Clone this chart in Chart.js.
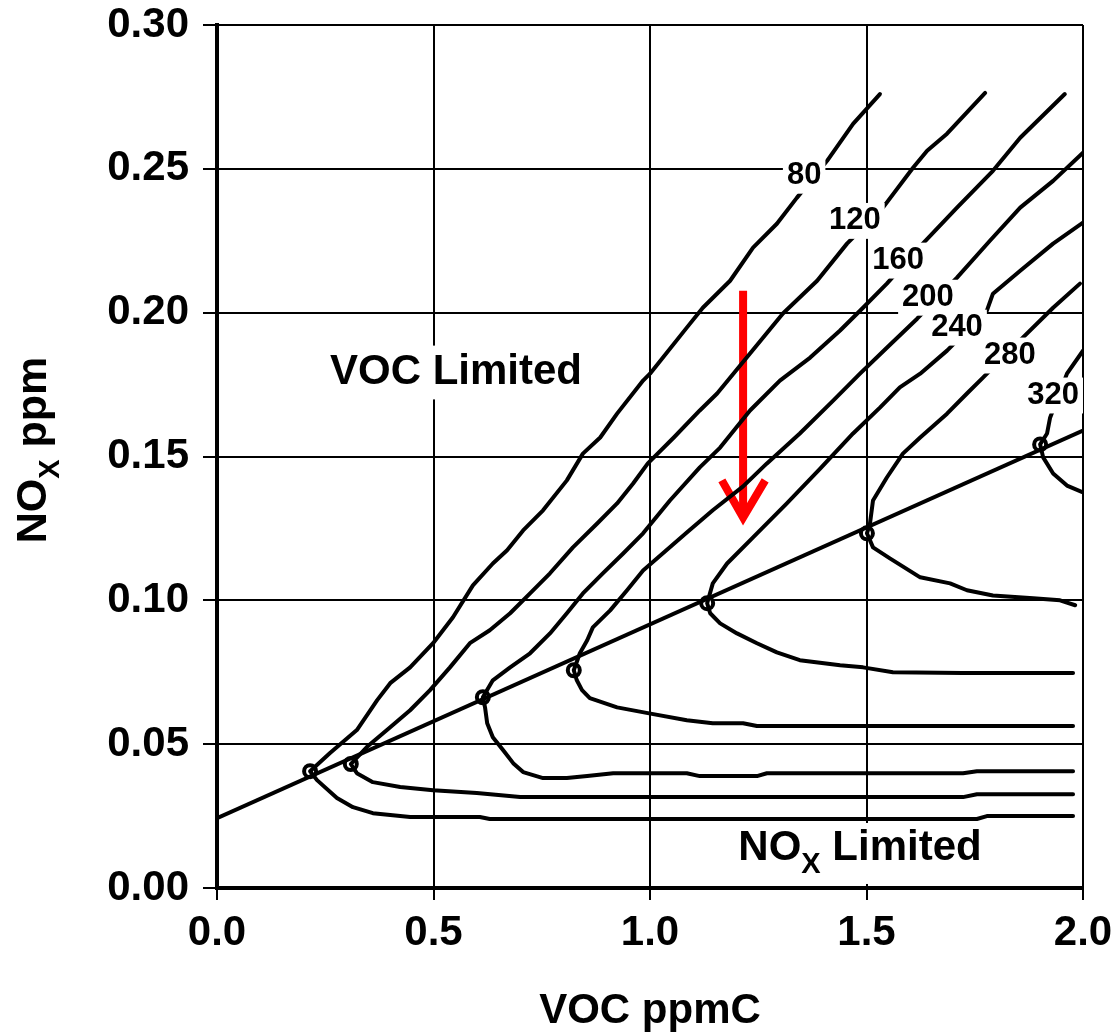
<!DOCTYPE html>
<html>
<head>
<meta charset="utf-8">
<title>Ozone isopleths</title>
<script src="https://cdn.jsdelivr.net/npm/chart.js@4.4.1/dist/chart.umd.min.js"></script>
<style>
    body { margin: 0; background: #fff; }
    #chart { display: block; }
</style>
</head>
<body>
<canvas id="chart" width="1112" height="1032"></canvas>
<script>
'use strict';
// values: [VOC ppmC, NOx ppm]
let levels = [80, 120, 160, 200, 240, 280, 320];
let xTicks = [0, 0.5, 1.0, 1.5, 2.0];
let yTicks = [0, 0.05, 0.10, 0.15, 0.20, 0.25, 0.30];

let ridge = [[0, 0.0243], [2.0, 0.159]];
let peaks = [[0.215, 0.0406], [0.309, 0.0431], [0.614, 0.0663], [0.824, 0.0757], [1.132, 0.0990], [1.501, 0.1233], [1.901, 0.1542]];

// VOC limited branches (above ridge)
let c80Up = [[0.215, 0.0406], [0.261, 0.0469], [0.323, 0.0549], [0.370, 0.0653], [0.400, 0.0712], [0.446, 0.0767], [0.499, 0.0851], [0.545, 0.0941], [0.591, 0.1052], [0.637, 0.1128], [0.670, 0.1174], [0.707, 0.1243], [0.753, 0.1313], [0.808, 0.1417], [0.845, 0.1510], [0.885, 0.1566], [0.924, 0.1649], [0.984, 0.1764], [1.000, 0.1788], [1.085, 0.1948], [1.122, 0.2017], [1.185, 0.2111], [1.238, 0.2226], [1.293, 0.2309], [1.339, 0.2399], [1.409, 0.2528], [1.469, 0.2656], [1.531, 0.2760]];
let c120Up = [[0.309, 0.0431], [0.346, 0.0490], [0.400, 0.0559], [0.446, 0.0618], [0.492, 0.0688], [0.538, 0.0767], [0.584, 0.0851], [0.630, 0.0896], [0.677, 0.0955], [0.723, 0.1024], [0.769, 0.1094], [0.822, 0.1184], [0.878, 0.1267], [0.924, 0.1337], [0.961, 0.1406], [0.995, 0.1476], [1.055, 0.1566], [1.115, 0.1660], [1.155, 0.1719], [1.231, 0.1858], [1.307, 0.1997], [1.386, 0.2111], [1.455, 0.2240], [1.538, 0.2365], [1.607, 0.2503], [1.640, 0.2563], [1.686, 0.2622], [1.774, 0.2764]];
let c160Up = [[0.614, 0.0663], [0.637, 0.0722], [0.677, 0.0767], [0.723, 0.0816], [0.769, 0.0885], [0.808, 0.0955], [0.845, 0.1024], [0.891, 0.1094], [0.938, 0.1163], [0.984, 0.1233], [1.046, 0.1347], [1.115, 0.1462], [1.162, 0.1531], [1.231, 0.1660], [1.300, 0.1764], [1.370, 0.1844], [1.439, 0.1938], [1.492, 0.2017], [1.547, 0.2101], [1.630, 0.2240], [1.709, 0.2365], [1.792, 0.2493], [1.855, 0.2608], [1.958, 0.2760]];
let c200Up = [[0.824, 0.0757], [0.838, 0.0816], [0.855, 0.0861], [0.868, 0.0906], [0.908, 0.0965], [0.947, 0.1035], [0.984, 0.1104], [1.085, 0.1236], [1.145, 0.1313], [1.215, 0.1396], [1.270, 0.1476], [1.346, 0.1580], [1.423, 0.1694], [1.485, 0.1788], [1.547, 0.1878], [1.617, 0.1979], [1.709, 0.2122], [1.785, 0.2250], [1.855, 0.2365], [1.931, 0.2458], [2.000, 0.2556]];
let c240Up = [[1.132, 0.0990], [1.145, 0.1059], [1.178, 0.1128], [1.238, 0.1219], [1.316, 0.1337], [1.393, 0.1458], [1.469, 0.1580], [1.531, 0.1670], [1.577, 0.1740], [1.624, 0.1788], [1.686, 0.1868], [1.778, 0.2007], [1.792, 0.2066], [1.855, 0.2146], [1.931, 0.2240], [2.000, 0.2313]];
let c280Up = [[1.501, 0.1233], [1.508, 0.1267], [1.515, 0.1347], [1.547, 0.1427], [1.584, 0.1510], [1.624, 0.1566], [1.686, 0.1649], [1.732, 0.1719], [1.769, 0.1774], [1.861, 0.1913], [1.931, 0.2017], [1.993, 0.2101]];
let c320Up = [[1.901, 0.1542], [1.917, 0.1580], [1.924, 0.1635], [1.963, 0.1788], [2.000, 0.1868]];

// NOx limited branches (below ridge)
let c80Low = [[0.215, 0.0406], [0.231, 0.0375], [0.277, 0.0313], [0.314, 0.0281], [0.360, 0.0260], [0.446, 0.0247], [0.607, 0.0247], [0.630, 0.0240], [1.755, 0.0240], [1.778, 0.0250], [1.977, 0.0250]];
let c120Low = [[0.309, 0.0431], [0.323, 0.0399], [0.360, 0.0368], [0.423, 0.0351], [0.499, 0.0340], [0.600, 0.0330], [0.700, 0.0316], [1.723, 0.0316], [1.755, 0.0326], [1.977, 0.0326]];
let c160Low = [[0.614, 0.0663], [0.619, 0.0628], [0.624, 0.0573], [0.637, 0.0524], [0.661, 0.0479], [0.684, 0.0434], [0.707, 0.0403], [0.753, 0.0382], [0.808, 0.0382], [0.855, 0.0389], [0.915, 0.0399], [1.085, 0.0399], [1.115, 0.0389], [1.247, 0.0389], [1.270, 0.0399], [1.723, 0.0399], [1.755, 0.0406], [1.977, 0.0406]];
let c200Low = [[0.824, 0.0757], [0.831, 0.0722], [0.843, 0.0688], [0.861, 0.0660], [0.924, 0.0628], [0.995, 0.0608], [1.085, 0.0583], [1.145, 0.0573], [1.215, 0.0573], [1.247, 0.0563], [1.977, 0.0563]];
let c240Low = [[1.132, 0.0990], [1.139, 0.0955], [1.162, 0.0920], [1.201, 0.0885], [1.247, 0.0851], [1.293, 0.0819], [1.346, 0.0792], [1.439, 0.0774], [1.492, 0.0767], [1.561, 0.0750], [1.723, 0.0747], [1.977, 0.0747]];
let c280Low = [[1.501, 0.1233], [1.515, 0.1184], [1.554, 0.1146], [1.624, 0.1080], [1.693, 0.1059], [1.732, 0.1035], [1.792, 0.1017], [1.885, 0.1007], [1.947, 0.1000], [1.982, 0.0983]];
let c320Low = [[1.901, 0.1542], [1.908, 0.1497], [1.931, 0.1441], [1.963, 0.1399], [2.000, 0.1375]];

// where the contour numbers sit
let labelPos = [[1.356, 0.2476], [1.473, 0.2319], [1.573, 0.2181], [1.642, 0.2052], [1.709, 0.1948], [1.831, 0.1851], [1.931, 0.1712]];

// the red arrow
let arrowShaft = [[1.215, 0.2076], [1.215, 0.1300]];
let arrowHead = [[1.166, 0.1417], [1.215, 0.1288], [1.266, 0.1417]];

let uppers = [c80Up, c120Up, c160Up, c200Up, c240Up, c280Up, c320Up];
let lowers = [c80Low, c120Low, c160Low, c200Low, c240Low, c280Low, c320Low];

function toPoints(arr) {
    return arr.map(function (p) { return { x: p[0], y: p[1] }; });
}

let FONT = '"Liberation Sans", Arial, sans-serif';

let datasets = [];
datasets.push({
    label: 'ridge',
    data: toPoints(ridge),
    borderColor: '#000',
    borderWidth: 4,
    pointRadius: 0,
    showLine: true
});
for (let i = 0; i < levels.length; i++) {
    // walk the lower branch back to the ridge, then up the upper branch
    let line = lowers[i].slice().reverse().concat(uppers[i].slice(1));
    datasets.push({
        label: String(levels[i]),
        data: toPoints(line),
        borderColor: '#000',
        borderWidth: 4,
        pointRadius: 0,
        showLine: true,
        borderJoinStyle: 'round',
        borderCapStyle: 'round'
    });
}
datasets.push({
    label: 'peaks',
    data: toPoints(peaks),
    showLine: false,
    pointRadius: 6,
    pointBorderWidth: 4,
    pointBackgroundColor: '#fff',
    pointBorderColor: '#000'
});
datasets.push({
    label: 'arrow',
    data: toPoints(arrowShaft),
    borderColor: '#ff0000',
    borderWidth: 8,
    pointRadius: 0,
    showLine: true
});
datasets.push({
    label: 'arrowhead',
    data: toPoints(arrowHead),
    borderColor: '#ff0000',
    borderWidth: 8,
    pointRadius: 0,
    showLine: true,
    borderJoinStyle: 'miter',
    borderCapStyle: 'butt'
});

// white box + bold text
function boxText(ctx, text, cx, cy, size, pad) {
    ctx.font = 'bold ' + size + 'px ' + FONT;
    let w = ctx.measureText(text).width;
    ctx.fillStyle = '#fff';
    ctx.fillRect(cx - w / 2 - pad, cy - size * 0.45 - pad, w + pad * 2, size * 0.9 + pad * 2);
    ctx.fillStyle = '#000';
    ctx.textAlign = 'center';
    ctx.textBaseline = 'middle';
    ctx.fillText(text, cx, cy);
}

// text made of parts (for the subscripts), drawn from left x at baseline y
function subText(ctx, parts, x, y) {
    ctx.textAlign = 'left';
    ctx.textBaseline = 'alphabetic';
    ctx.fillStyle = '#000';
    let cur = x;
    parts.forEach(function (p) {
        ctx.font = 'bold ' + p.size + 'px ' + FONT;
        ctx.fillText(p.t, cur, y + (p.dy || 0));
        cur += ctx.measureText(p.t).width;
    });
}
function subWidth(ctx, parts) {
    let w = 0;
    parts.forEach(function (p) {
        ctx.font = 'bold ' + p.size + 'px ' + FONT;
        w += ctx.measureText(p.t).width;
    });
    return w;
}

let labelsPlugin = {
    id: 'labelsPlugin',
    afterDatasetsDraw: function (chart) {
        let ctx = chart.ctx;
        let xs = chart.scales.x;
        let ys = chart.scales.y;
        ctx.save();
        for (let i = 0; i < levels.length; i++) {
            boxText(ctx, String(levels[i]), xs.getPixelForValue(labelPos[i][0]), ys.getPixelForValue(labelPos[i][1]), 31, 4);
        }
        // region names
        boxText(ctx, 'VOC Limited', xs.getPixelForValue(0.552), ys.getPixelForValue(0.1792), 42, 8);

        let noxParts = [{ t: 'NO', size: 42 }, { t: 'X', size: 29, dy: 13 }, { t: ' Limited', size: 42 }];
        let nw = subWidth(ctx, noxParts);
        let ncx = xs.getPixelForValue(1.485);
        let nby = ys.getPixelForValue(0.0097);
        ctx.fillStyle = '#fff';
        ctx.fillRect(ncx - nw / 2 - 6, ys.getPixelForValue(0.0226), nw + 12, ys.getPixelForValue(0.0014) - ys.getPixelForValue(0.0226));
        subText(ctx, noxParts, ncx - nw / 2, nby);
        ctx.restore();
    },
    afterDraw: function (chart) {
        let ctx = chart.ctx;
        let area = chart.chartArea;
        ctx.save();
        // x title
        let xParts = [{ t: 'VOC ppmC', size: 42 }];
        let xw = subWidth(ctx, xParts);
        subText(ctx, xParts, (area.left + area.right) / 2 - xw / 2, 1023);
        // y title, rotated
        let yParts = [{ t: 'NO', size: 43 }, { t: 'X', size: 29, dy: 13 }, { t: ' ppm', size: 43 }];
        let yw = subWidth(ctx, yParts);
        ctx.translate(46, 450);
        ctx.rotate(-Math.PI / 2);
        subText(ctx, yParts, -yw / 2, 0);
        ctx.restore();
    }
};

let ctx = document.getElementById('chart').getContext('2d');
let myChart = new Chart(ctx, {
    type: 'scatter',
    data: { datasets: datasets },
    options: {
        responsive: false,
        animation: false,
        devicePixelRatio: 1,
        layout: { padding: { left: 0, right: 29, top: 25, bottom: 0 } },
        plugins: {
            legend: { display: false },
            tooltip: { enabled: false }
        },
        elements: { line: { tension: 0 } },
        scales: {
            x: {
                type: 'linear',
                min: 0,
                max: 2,
                afterBuildTicks: function (scale) {
                    scale.ticks = xTicks.map(function (v) { return { value: v }; });
                },
                afterFit: function (scale) {
                    scale.height = 144;
                    scale.paddingLeft = 0;
                    scale.paddingRight = 0;
                },
                ticks: {
                    color: '#000',
                    padding: 8,
                    maxRotation: 0,
                    font: { family: FONT, size: 42, weight: 'bold' },
                    callback: function (v) { return Number(v).toFixed(1); }
                },
                grid: { color: '#000', lineWidth: 2, tickLength: 12, tickColor: '#000' },
                border: { color: '#000', width: 4 }
            },
            y: {
                type: 'linear',
                min: 0,
                max: 0.3,
                afterBuildTicks: function (scale) {
                    scale.ticks = yTicks.map(function (v) { return { value: v }; });
                },
                afterFit: function (scale) {
                    scale.width = 217;
                    scale.paddingTop = 0;
                    scale.paddingBottom = 0;
                },
                ticks: {
                    color: '#000',
                    padding: 14,
                    font: { family: FONT, size: 42, weight: 'bold' },
                    callback: function (v) { return Number(v).toFixed(2); }
                },
                grid: { color: '#000', lineWidth: 2, tickLength: 14, tickColor: '#000' },
                border: { color: '#000', width: 4 }
            }
        }
    },
    plugins: [labelsPlugin]
});
</script>
</body>
</html>
